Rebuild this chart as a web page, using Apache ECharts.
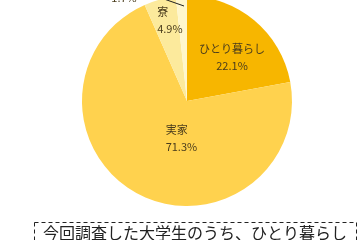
<!DOCTYPE html>
<html>
<head>
<meta charset="utf-8">
<script src="https://cdn.jsdelivr.net/npm/echarts@6/dist/echarts.min.js"></script>
<style>
html,body{margin:0;padding:0;background:#fff;}
#c{width:360px;height:240px;}
</style>
</head>
<body>
<div id="c"></div>
<script>
const categories = ['ひとり暮らし', '実家', '寮', 'その他'];
const values = [22.1, 71.3, 4.9, 1.7];
const colors = ['#F7B600', '#FFD24E', '#FCEA9C', '#FFF7CC'];
const noteText = '今回調査した大学生のうち、ひとり暮らし';

const chart = echarts.init(document.getElementById('c'), null, {renderer: 'canvas'});

const labelShift = [
  {dx: 9.5, dy: -1, align: 'center'},
  {dx: 4.6, dy: -12, align: 'left'},
  {dx: -15.5, dy: -27.5, align: 'left'},
  null
];

chart.setOption({
  animation: false,
  backgroundColor: '#fff',
  series: [{
    type: 'pie',
    center: [187, 101],
    radius: [0, 105],
    startAngle: 90,
    clockwise: true,
    avoidLabelOverlap: false,
    label: {
      show: true,
      position: 'inside',
      formatter: p => p.name + '\n' + p.value + '%',
      fontSize: 11,
      lineHeight: 17,
      color: '#4a3c1c',
      fontFamily: 'Noto Sans CJK JP'
    },
    labelLine: {show: false},
    itemStyle: {borderWidth: 0},
    emphasis: {disabled: true},
    data: categories.map((n, i) => ({name: n, value: values[i], itemStyle: {color: colors[i]}})),
    labelLayout: function (params) {
      const s = labelShift[params.dataIndex];
      if (s) {
        return {dx: s.dx, dy: s.dy, align: s.align};
      }
      return {x: 124, y: -10.5, align: 'center', verticalAlign: 'middle'};
    }
  }],
  graphic: [
    {
      type: 'line',
      z: 100,
      shape: {x1: 164, y1: -1, x2: 184, y2: 6},
      style: {stroke: '#222', lineWidth: 1}
    },
    {
      type: 'rect',
      z: 100,
      shape: {x: 34.5, y: 222.5, width: 322, height: 30},
      style: {fill: 'none', stroke: '#222', lineWidth: 1, lineDash: [4, 3]}
    },
    {
      type: 'text',
      z: 100,
      x: 43,
      y: 233,
      style: {
        text: noteText,
        fontSize: 16,
        fontFamily: 'Noto Sans CJK JP',
        fill: '#222',
        verticalAlign: 'middle'
      }
    }
  ]
});
</script>
</body>
</html>
